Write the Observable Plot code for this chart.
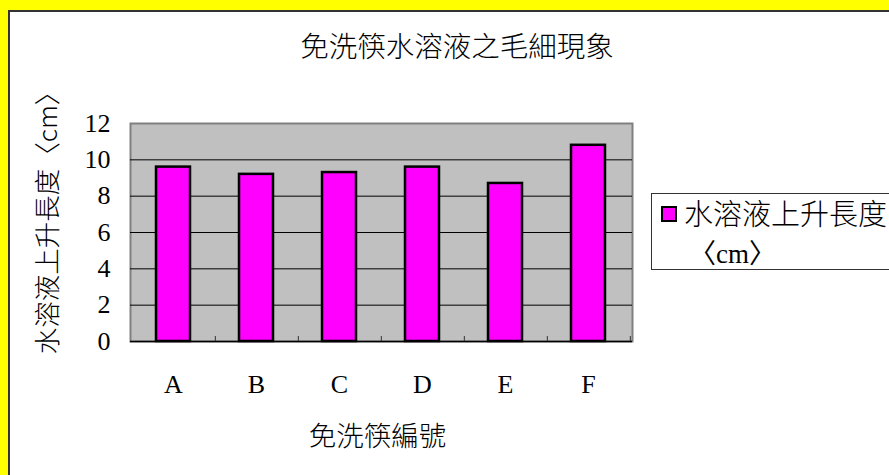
<!DOCTYPE html>
<html>
<head>
<meta charset="utf-8">
<script src="https://cdn.jsdelivr.net/npm/d3@7"></script>
<script src="https://cdn.jsdelivr.net/npm/@observablehq/plot@0.6"></script>
<style>
  html, body { margin: 0; padding: 0; background: #ffff00; }
  #page { position: relative; width: 889px; height: 475px; overflow: hidden; background: #ffff00; font-family: "Liberation Serif", "Noto Sans CJK TC", serif; }
  #panel { position: absolute; left: 8px; top: 10px; width: 900px; height: 480px; background: #fff; border-left: 2px solid #333; border-top: 2px solid #333; }
  #chart { position: absolute; left: 0; top: 0; }
  #title { position: absolute; left: 0; width: 914px; top: 30px; text-align: center; font-size: 28.5px; line-height: 30px; color: #000; font-family: "Noto Sans CJK TC", sans-serif; font-weight: 300; }
  #legend { position: absolute; left: 651px; top: 193px; width: 260px; height: 77px; border: 1px solid #333; background: #fff; box-sizing: border-box; font-size: 29px; color: #000; }
  #legend .sw { position: absolute; left: 9px; top: 12px; width: 12px; height: 12px; background: #ff00ff; border: 2px solid #000; }
  #legend .l1 { position: absolute; left: 32px; top: 3px; line-height: 30px; white-space: nowrap; font-family: "Noto Sans CJK TC", sans-serif; font-weight: 300; }
  #legend .l2 { position: absolute; left: 37px; top: 45px; line-height: 30px; white-space: nowrap; font-size: 27px; }
</style>
</head>
<body>
<div id="page">
  <div id="panel"></div>
  <div id="chart"></div>
  <div id="title"></div>
  <div id="legend"><div class="sw"></div><div class="l1"></div><div class="l2"></div></div>
</div>
<script>
const titleText = "免洗筷水溶液之毛細現象";
const xTitle = "免洗筷編號";
const yTitle = "水溶液上升長度〈cm〉";
const seriesName = ["水溶液上升長度", "〈cm〉"];
const categories = ["A", "B", "C", "D", "E", "F"];
const values = [9.6, 9.2, 9.3, 9.6, 8.7, 10.8];
const yTicks = [0, 2, 4, 6, 8, 10, 12];

const data = categories.map((c, i) => ({cat: c, val: values[i]}));

document.getElementById("title").textContent = titleText;
document.querySelector("#legend .l1").textContent = seriesName[0];
document.querySelector("#legend .l2").textContent = seriesName[1];

const W = 889, H = 475;
const mL = 130, mR = 257, mT = 123, mB = 134;
const step = (W - mL - mR) / categories.length;
const cjk = "'Noto Sans CJK TC', sans-serif";

const chart = Plot.plot({
  width: W,
  height: H,
  marginLeft: mL,
  marginRight: mR,
  marginTop: mT,
  marginBottom: mB,
  style: {background: "transparent", fontFamily: "'Liberation Serif', 'Noto Sans CJK TC', serif", fontSize: "26px", color: "#000"},
  x: {domain: categories, paddingInner: 0.59, paddingOuter: 0.295, align: 0.5},
  y: {domain: [0, 12]},
  marks: [
    Plot.frame({fill: "#c0c0c0", stroke: "#808080", strokeWidth: 2}),
    Plot.gridY(yTicks.filter(d => d > 0 && d < 12), {stroke: "#000", strokeOpacity: 1, strokeWidth: 1}),
    Plot.barY(data, {x: "cat", y: "val", fill: "#ff00ff", stroke: "#000", strokeWidth: 2.5}),
    Plot.ruleY([0], {stroke: "#000", strokeWidth: 1.5}),
    Plot.axisY({ticks: yTicks, tickSize: 0, tickPadding: 20, tickFormat: d => String(d), fontSize: 26, label: null}),
    Plot.axisX({tickSize: 0, tickPadding: 33, fontSize: 26, label: null}),
    Plot.axisX({text: null, tickSize: 5, dy: -5, dx: step / 2, stroke: "#333", label: null}),
    Plot.text([yTitle], {frameAnchor: "left", textAnchor: "middle", lineAnchor: "middle", rotate: -90, dx: -82, dy: -16, fontSize: 26.5, fontFamily: cjk, fontWeight: 300, fill: "#000"}),
    Plot.text([xTitle], {frameAnchor: "bottom", textAnchor: "middle", lineAnchor: "middle", dx: -4, dy: 96, fontSize: 27.5, fontFamily: cjk, fontWeight: 300, fill: "#000"})
  ]
});
document.getElementById("chart").appendChild(chart);
</script>
</body>
</html>
